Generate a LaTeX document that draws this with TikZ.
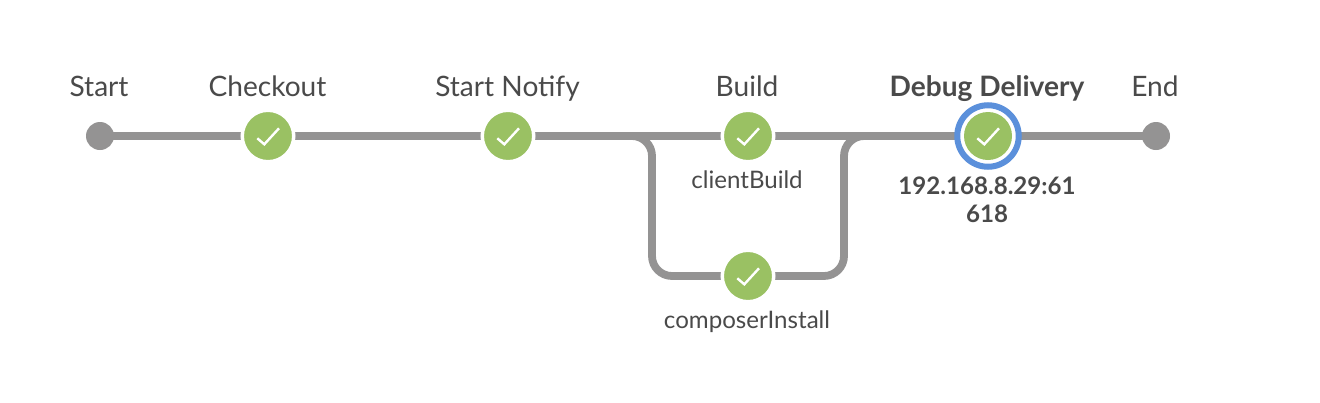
\documentclass[tikz,border=0pt]{standalone}
\usepackage{fontspec}
\setmainfont{Lato}
\definecolor{okgreen}{HTML}{9AC163}
\definecolor{pipegrey}{HTML}{949393}
\definecolor{ringblue}{HTML}{5B90DB}
\definecolor{labelgrey}{HTML}{4A4A4A}
\tikzset{
  x=1pt,y=-1pt,
  checkmark/.style={path picture={\draw[white,line width=2.4pt,line cap=butt,line join=miter]
      ([shift={(-10.7pt,-2.3pt)}]path picture bounding box.center)
      -- ([shift={(-3.7pt,-8.3pt)}]path picture bounding box.center)
      -- ([shift={(11pt,7.7pt)}]path picture bounding box.center);}},
  okstage/.style={circle,inner sep=0pt,outer sep=0pt,minimum size=51.5pt,fill=okgreen,draw=white,line width=3.5pt,checkmark},
  okcore/.style={circle,inner sep=0pt,outer sep=0pt,minimum size=48pt,fill=okgreen,checkmark},
  endpoint/.style={circle,inner sep=0pt,outer sep=0pt,minimum size=28pt,fill=pipegrey},
  ring/.style={circle,inner sep=0pt,outer sep=0pt,minimum size=61.5pt,draw=ringblue,line width=6pt,fill=white},
  pipe/.style={draw=pipegrey,line width=7.8pt,rounded corners=20pt},
  stagetitle/.style={anchor=base,text=labelgrey,font=\fontsize{28.1}{32}\selectfont,inner sep=0pt},
  subtitle/.style={anchor=base,text=labelgrey,font=\fontsize{24.1}{28.5}\selectfont,inner sep=0pt},
  boldtitle/.style={stagetitle,font=\fontsize{28.1}{32}\bfseries\selectfont},
  boldsub/.style={subtitle,font=\fontsize{24.1}{28.5}\bfseries\selectfont},
}
\begin{document}
\begin{tikzpicture}
\useasboundingbox[fill=white] (0,0) rectangle (1320,402);
% junction coordinates
\coordinate (splittop) at (652,136);
\coordinate (splitbot) at (652,276);
\coordinate (jointop) at (844,136);
\coordinate (joinbot) at (844,276);
\coordinate (nstart) at (100,136);
\coordinate (ncheckout) at (268,136);
\coordinate (nnotify) at (508,136);
\coordinate (nbuild) at (748,136);
\coordinate (ncompose) at (748,276);
\coordinate (ndebug) at (988,136);
\coordinate (nend) at (1156,136);
% connectors
\draw[pipe] (nstart) -- (ncheckout);
\draw[pipe] (ncheckout) -- (nnotify);
\draw[pipe] (nnotify) -- (nbuild);
\draw[pipe] (nbuild) -- (ndebug);
\draw[pipe] (ndebug) -- (nend);
\draw[pipe] (nnotify) -- (splittop) -- (splitbot) -- (ncompose);
\draw[pipe] (ncompose) -- (joinbot) -- (jointop) -- (ndebug);
% stages
\node[endpoint] (start) at (nstart) {};
\node[endpoint] (end) at (nend) {};
\node[okstage] (checkout) at (ncheckout) {};
\node[okstage] (notify) at (nnotify) {};
\node[okstage] (build) at (nbuild) {};
\node[okstage] (compose) at (ncompose) {};
\node[ring] (debugring) at (ndebug) {};
\node[okcore] (debug) at (ndebug) {};
% labels
\node[stagetitle] (lstart) at (99,96.5) {Start};
\node[stagetitle] (lcheckout) at (267.5,96.5) {Checkout};
\node[stagetitle] (lnotify) at (507.5,96.5) {Start Notify};
\node[stagetitle] (lbuild) at (747,96.5) {Build};
\node[boldtitle] (ldebug) at (987,96.5) {Debug Delivery};
\node[stagetitle] (lend) at (1155,96.5) {End};
\node[subtitle] (lclient) at (747,188) {clientBuild};
\node[subtitle] (lcompose) at (747,328) {composerInstall};
\node[boldsub] (lip1) at (987,194) {192.168.8.29:61};
\node[boldsub] (lip2) at (987,222.5) {618};
\end{tikzpicture}
\end{document}
